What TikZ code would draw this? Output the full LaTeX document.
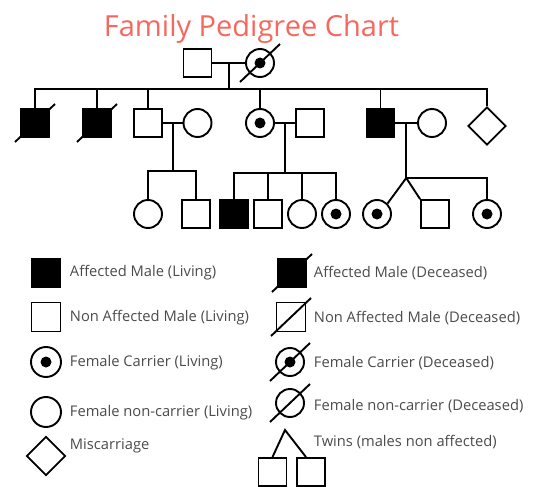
\documentclass[tikz,border=0pt]{standalone}
\usepackage{fontspec}
\setmainfont{Open Sans}
\usetikzlibrary{shapes.geometric,calc}
\definecolor{titlered}{RGB}{246,104,94}
\definecolor{legendgray}{RGB}{75,75,75}

\begin{document}
\begin{tikzpicture}[x=1pt,y=-1pt,line width=1.9pt]
    \tikzstyle{male}=[draw,rectangle,minimum size=28pt,inner sep=0pt]
    \tikzstyle{amale}=[male,fill=black]
    \tikzstyle{female}=[draw,circle,minimum size=28pt,inner sep=0pt]
    \tikzstyle{carrier}=[female,path picture={\fill (path picture bounding box.center) circle (5.5pt);}]
    \tikzstyle{lost}=[draw,diamond,minimum size=38pt,inner sep=0pt]
    \tikzstyle{slash}=[line width=1.9pt]
    \tikzstyle{lgtext}=[anchor=west,inner sep=0pt,text=legendgray,font=\fontsize{14.7}{16}\selectfont]

    \useasboundingbox (0,0) rectangle (533,487);

    \node[anchor=base,inner sep=0pt,text=titlered,font=\fontsize{29}{32}\selectfont] (title) at (251.5,37) {Family Pedigree Chart};

    % first generation
    \node[male] (g1m) at (197.5,63) {};
    \node[carrier] (g1f) at (260,63) {};
    \draw (g1m) -- (g1f);
    \coordinate (g1mid) at ($(g1m)!0.5!(g1f)$);
    \coordinate (g1sib) at ($(g1mid)+(0,26)$);
    \draw (g1mid) -- (g1sib);

    % second generation
    \node[amale] (g2a) at (35,123) {};
    \node[amale] (g2b) at (97,123) {};
    \node[male] (g2c) at (148,123) {};
    \node[female] (g2d) at (197.5,123) {};
    \node[carrier] (g2e) at (260,123) {};
    \node[male] (g2f) at (310,123) {};
    \node[amale] (g2g) at (380.5,123) {};
    \node[female] (g2h) at (432,123) {};
    \node[lost] (g2i) at (487,126) {};
    \foreach \n in {g2a,g2b,g2c,g2e,g2g,g2i} {
        \draw (\n.north) |- (g1sib);
    }
    \draw (g2c) -- (g2d);
    \draw (g2e) -- (g2f);
    \draw (g2g) -- (g2h);

    % third generation
    \coordinate (c1mid) at ($(g2c)!0.5!(g2d)$);
    \coordinate (c1sib) at ($(c1mid)+(0,48)$);
    \coordinate (c2mid) at ($(g2e)!0.5!(g2f)$);
    \coordinate (c2sib) at ($(c2mid)+(0,50)$);
    \coordinate (c3mid) at ($(g2g)!0.5!(g2h)$);
    \coordinate (c3sib) at ($(c3mid)+(0,55)$);
    \draw (c1mid) -- (c1sib);
    \draw (c2mid) -- (c2sib);
    \draw (c3mid) -- (c3sib);

    \foreach \n/\x/\s in {g3a/148/female, g3b/196/male, g3c/234/amale, g3d/268/male, g3e/302/female, g3f/336/carrier, g3g/377/carrier, g3h/435/male, g3i/487/carrier} {
        \node[\s] (\n) at (\x,214) {};
    }
    \foreach \n in {g3a,g3b} {
        \draw (\n.north) |- (c1sib);
    }
    \foreach \n in {g3c,g3d,g3e,g3f} {
        \draw (\n.north) |- (c2sib);
    }
    \draw (g3g.north east) -- (c3sib) -- (g3h.north west);
    \draw (g3i.north) |- (c3sib);

    % legend
    \node[amale,minimum size=29pt] (ll1) at (46,273) {};
    \node[male,minimum size=29pt] (ll2) at (46,317) {};
    \node[carrier,minimum size=30pt] (ll3) at (46,362) {};
    \node[female,minimum size=30pt] (ll4) at (46,412) {};
    \node[lost,minimum size=39pt] (ll5) at (46,456) {};
    \node[amale,minimum size=29pt] (lr1) at (292,273) {};
    \node[male,minimum size=29pt] (lr2) at (291,317) {};
    \node[carrier] (lr3) at (290,362) {};
    \node[female] (lr4) at (290,403) {};
    \coordinate (twin) at (285,430);
    \node[male] (lr5a) at (272.5,472) {};
    \node[male] (lr5b) at (311,472) {};
    \draw (lr5a.north) -- (twin) -- ($(lr5b.north)+(-5,0)$);

    \foreach \n in {g1f,g2a,g2b,lr1,lr2,lr3,lr4} {
        \draw[slash] ($(\n.center)+(-20,19)$) -- ($(\n.center)+(20,-19)$);
    }

    \foreach \n/\y/\t in {lt1/273/{Affected Male (Living)}, lt2/318/{Non Affected Male (Living)}, lt3/363/{Female Carrier (Living)}, lt4/413/{Female non-carrier (Living)}, lt5/446/{Miscarriage}} {
        \node[lgtext] (\n) at (69,\y) {\t};
    }
    \foreach \n/\y/\t in {rt1/273/{Affected Male (Deceased)}, rt2/318/{Non Affected Male (Deceased)}, rt3/363/{Female Carrier (Deceased)}, rt4/406/{Female non-carrier (Deceased)}, rt5/442/{Twins (males non affected)}} {
        \node[lgtext] (\n) at (313,\y) {\t};
    }

\end{tikzpicture}
\end{document}
